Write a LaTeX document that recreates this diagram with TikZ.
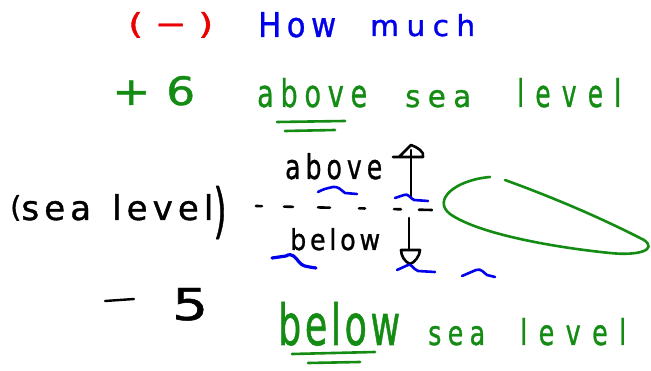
\documentclass[tikz,border=0pt]{standalone}
\usepackage{fontspec}
\usepackage{graphicx}
\setmainfont[FakeBold=1.1]{DejaVu Sans}
\definecolor{hgreen}{RGB}{20,140,20}
\definecolor{hblue}{RGB}{0,0,235}
\definecolor{hred}{RGB}{235,0,0}
% #1 width, #2 height, #3 letter spacing (percent), #4 text
\newcommand\hw[4]{\resizebox{#1}{#2}{\addfontfeature{LetterSpace=#3}#4}}
\begin{document}
\begin{tikzpicture}[x=1pt,y=-1pt,
  ink/.style={line width=2.6pt,line cap=round,line join=round},
  txt/.style={inner sep=0pt,anchor=base west,font=\fontsize{30}{30}\selectfont},
  squig/.style={ink,hblue,line width=2.6pt}]
\useasboundingbox (0,0) rectangle (651,371);
\fill[white] (0,0) rectangle (651,371);
% top line
\node[txt,hred] (neg) at (128,34) {\hw{85pt}{22pt}{10}{(\hspace{0.3em}−\hspace{0.3em})}};
\node[txt,hblue] (how) at (258,37) {\hw{78pt}{25pt}{18}{How}};
\node[txt,hblue] (much) at (370,36) {\hw{105pt}{22pt}{25}{much}};
% +6 line
\node[txt,hgreen] (p6) at (112,105) {\hw{83pt}{29pt}{10}{+\hspace{0.35em}6}};
\node[txt,hgreen] (abv) at (257,107) {\hw{110pt}{29pt}{25}{above}};
\node[txt,hgreen] (sea1) at (405,107) {\hw{66pt}{17pt}{25}{sea}};
\node[txt,hgreen] (lev1) at (517,107) {\hw{104pt}{29pt}{45}{level}};
\draw[ink,hgreen] (277,122) -- (345,121);
\draw[ink,hgreen] (285,131) -- (335,130);
% middle
\node[txt] (ab) at (285,179) {\hw{97pt}{26pt}{20}{above}};
\node[txt,font=\fontsize{34}{34}\selectfont\addfontfeature{LetterSpace=15}] (sl) at (10,220)
  {\raisebox{3pt}{\scalebox{0.85}{(}}sea\hspace{0.15em} level\raisebox{-0.33em}{\scalebox{1}[1.75]{)}}};
\node[txt] (be) at (290,250) {\hw{90pt}{22pt}{15}{below}};
% dashed sea level
\coordinate (d0) at (256,206);
\coordinate (d1) at (432,210);
\draw[ink,dash pattern=on 6pt off 22pt on 9pt off 25pt on 12pt off 29pt on 6pt off 29pt on 7pt off 18pt on 13pt off 5pt] (d0) -- (d1);
% arrows
\coordinate (ub) at (411,197);
\coordinate (ut) at (411,150);
\draw[ink] (ub) -- (ut);
\draw[ink] (393,157) -- (423,157) .. controls (425,152) and (417,147) .. (411,145) -- (399,157);
\coordinate (db) at (409,218);
\coordinate (dt) at (409,250);
\draw[ink] (db) -- (dt);
\draw[ink] (401,250) -- (420,250) .. controls (420,256) and (414,263) .. (410,264) .. controls (405,262) and (401,256) .. (401,250) -- cycle;
% squiggles
\draw[squig] (318,192) .. controls (324,189) .. (333,187) .. controls (338,186) and (341,190) .. (345,193) -- (357,194);
\draw[squig] (395,198) -- (404,195) .. controls (408,193) and (410,198) .. (414,200) -- (428,201);
\draw[squig,line width=3.2pt] (272,258) -- (286,256) .. controls (292,252) and (296,258) .. (299,262) .. controls (303,266) .. (316,268);
\draw[squig] (397,270) -- (408,265) .. controls (411,263) and (413,269) .. (418,271) -- (435,272);
\draw[squig] (462,276) -- (476,270) .. controls (481,268) and (484,273) .. (487,275) -- (495,277);
% green ellipse
\draw[ink,hgreen,line width=2.6pt] (490,177) .. controls (455,180) and (432,200) .. (450,214)
  .. controls (480,235) and (560,248) .. (610,253)
  .. controls (638,256) and (658,250) .. (644,240)
  .. controls (605,220) and (560,200) .. (505,180);
% -5 line
\draw[ink,line width=2.4pt] (105,301) -- (134,299);
\node[txt] (five) at (172,320) {\hw{36pt}{32pt}{10}{5}};
\node[txt,hgreen] (bel) at (278,345) {\hw{122pt}{43pt}{10}{below}};
\node[txt,hgreen] (sea2) at (428,345) {\hw{57pt}{19pt}{25}{sea}};
\node[txt,hgreen] (lev2) at (520,345) {\hw{106pt}{27pt}{45}{level}};
\draw[ink,hgreen] (292,354) -- (375,352);
\draw[ink,hgreen] (308,363) -- (360,362);
\end{tikzpicture}
\end{document}
